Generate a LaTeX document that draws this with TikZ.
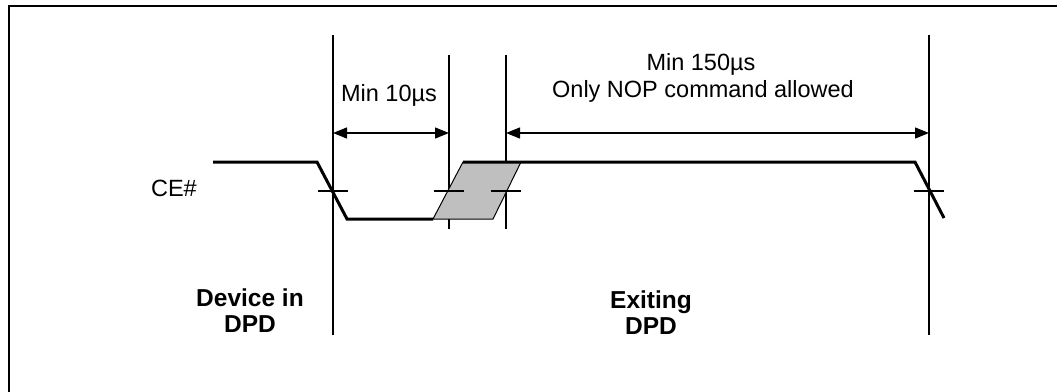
\documentclass[tikz,border=0pt]{standalone}
\usepackage{fontspec}
\setmainfont{Liberation Sans}
\usetikzlibrary{arrows.meta}
\begin{document}
\begin{tikzpicture}[x=1pt,y=-1pt,
  framel/.style={line width=2pt,line cap=rect},
  sig/.style={line width=3pt,line join=miter},
  thinl/.style={line width=1.3pt},
  dimarrow/.style={line width=1.3pt,{Triangle[length=14pt,width=11pt]}-{Triangle[length=14pt,width=11pt]}},
  lbl/.style={font=\fontsize{23.5}{27}\selectfont,inner sep=0pt,anchor=base},
  blbl/.style={font=\fontsize{24.5}{28}\selectfont\bfseries,inner sep=0pt,anchor=base}]
\useasboundingbox (0,0) rectangle (1057,391);
% frame (only top and left visible)
\draw[framel] (9,391) -- (9,6) -- (1057,6);
% timing reference lines
\coordinate (v1t) at (333,35);  \coordinate (v1b) at (333,335);
\coordinate (v2t) at (449,55);  \coordinate (v2b) at (449,229);
\coordinate (v3t) at (506,55);  \coordinate (v3b) at (506,229);
\coordinate (v4t) at (929,35);  \coordinate (v4b) at (929,335);
\draw[thinl] (v1t) -- (v1b);
\draw[thinl] (v2t) -- (v2b);
\draw[thinl] (v3t) -- (v3b);
\draw[thinl] (v4t) -- (v4b);
% transition window
\coordinate (p1) at (433,219); \coordinate (p2) at (463,162);
\coordinate (p3) at (521,162); \coordinate (p4) at (493,219);
\filldraw[fill=black!25,draw=black,line width=1pt] (p1) -- (p2) -- (p3) -- (p4) -- cycle;
% CE# signal
\coordinate (s0) at (213,162); \coordinate (s1) at (317,162);
\coordinate (s2) at (347,219); \coordinate (s3) at (433,219);
\coordinate (s4) at (463,162); \coordinate (s5) at (915,162);
\coordinate (s6) at (944,218);
\draw[sig] (s0) -- (s1) -- (s2) -- (s3);
\draw[sig] (s4) -- (s5) -- (s6);
% crossing ticks
\foreach \x in {333,449,506,929}{
  \draw[thinl] (\x-15,191) -- (\x+15,191);
}
% dimension arrows
\coordinate (a1l) at (333,133); \coordinate (a1r) at (449,133);
\coordinate (a2l) at (506,133); \coordinate (a2r) at (929,133);
\draw[dimarrow] (a1l) -- (a1r);
\draw[dimarrow] (a2l) -- (a2r);
% labels
\node[lbl,anchor=base east] (ce) at (197,196) {CE\#};
\node[lbl] (min10) at (389,101) {Min 10µs};
\node[lbl] (min150) at (701,70) {Min 150µs};
\node[lbl] (nop) at (703,97) {Only NOP command allowed};
\node[blbl] (dev1) at (250,306) {Device in};
\node[blbl] (dev2) at (250,332) {DPD};
\node[blbl] (ex1) at (651,308) {Exiting};
\node[blbl] (ex2) at (651,334) {DPD};
\end{tikzpicture}
\end{document}
